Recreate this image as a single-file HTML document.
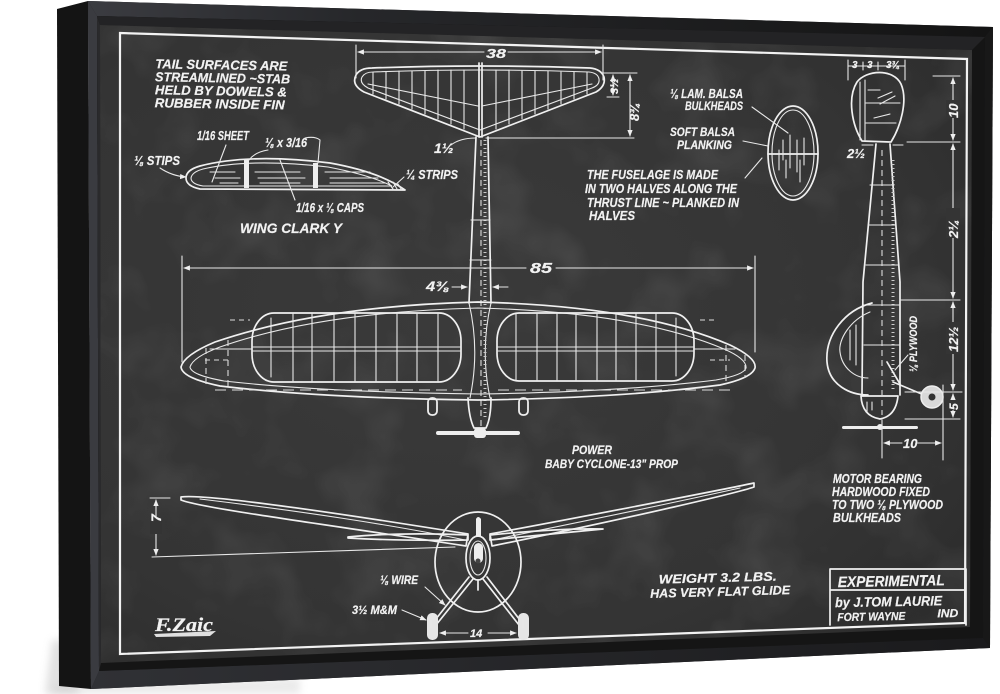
<!DOCTYPE html>
<html><head><meta charset="utf-8">
<style>
html,body{margin:0;padding:0;background:#fff;width:1000px;height:694px;overflow:hidden}
svg{display:block}
text{font-family:"Liberation Sans",sans-serif;font-style:italic;font-weight:bold;fill:#f2f2f2;stroke:#f2f2f2;stroke-width:0.2}
.w{stroke:#f0f0f0;fill:none;stroke-width:1.7;stroke-linecap:round;stroke-linejoin:round}
.t{stroke:#e8e8e8;fill:none;stroke-width:1.1;stroke-linecap:round}
.d{stroke:#dcdcdc;fill:none;stroke-width:1.1;stroke-dasharray:6 4}
</style></head><body>
<svg width="1000" height="694" viewBox="0 0 1000 694" xmlns="http://www.w3.org/2000/svg">
<defs>
 <linearGradient id="topg" x1="0" x2="1" y1="0" y2="0">
  <stop offset="0" stop-color="#3b3c41"/><stop offset="0.3" stop-color="#26272a"/><stop offset="1" stop-color="#141414"/>
 </linearGradient>
 <linearGradient id="botg" x1="0" x2="1" y1="0" y2="0">
  <stop offset="0" stop-color="#303135"/><stop offset="1" stop-color="#1a1a1c"/>
 </linearGradient>
 <radialGradient id="canv" cx="0.4" cy="0.45" r="0.75">
  <stop offset="0" stop-color="#3a3a3a"/><stop offset="0.7" stop-color="#343434"/><stop offset="1" stop-color="#2c2c2c"/>
 </radialGradient>
 <filter id="blur" x="-20%" y="-20%" width="140%" height="140%"><feGaussianBlur stdDeviation="4"/></filter>
 <filter id="noise" x="0" y="0" width="100%" height="100%">
  <feTurbulence type="fractalNoise" baseFrequency="0.015" numOctaves="3" seed="7"/>
  <feColorMatrix type="matrix" values="0 0 0 0 1  0 0 0 0 1  0 0 0 0 1  1.3 0 0 0 -0.6"/>
 </filter>
 <clipPath id="cc"><polygon points="100,25 972,50 970,627 101,663"/></clipPath>
 <marker id="ar" viewBox="0 0 10 10" refX="9" refY="5" markerWidth="6" markerHeight="6" orient="auto-start-reverse">
  <path d="M0,1 L10,5 L0,9 Z" fill="#eee"/>
 </marker>
</defs>

<!-- shadow -->
<polygon points="52,640 62,640 80,694 45,694" fill="#aaa" opacity="0.35" filter="url(#blur)"/>
<polygon points="60,684 300,678 300,694 50,694" fill="#bbb" opacity="0.3" filter="url(#blur)"/>

<!-- frame side face -->
<polygon points="57,9 88,1 91,689 59,686" fill="#141414"/>
<!-- frame front -->
<polygon points="88,1 993,27 990,648 91,689" fill="#1b1b1d"/>
<polygon points="88,1 993,27 985,37 97,16" fill="url(#topg)"/>
<polygon points="88,1 97,16 99,671 91,689" fill="#3a3b40"/>
<polygon points="99,671 983,638 990,648 91,689" fill="url(#botg)"/>
<polygon points="985,37 993,27 990,648 983,638" fill="#181818"/>
<!-- recess -->
<polygon points="97,16 985,37 983,638 99,671" fill="#151515"/>
<polygon points="97,16 100,25 101,663 99,671" fill="#2a2a2c"/>
<polygon points="97,16 985,37 972,50 100,25" fill="#232325"/>
<!-- canvas -->
<polygon points="100,25 972,50 970,627 101,663" fill="url(#canv)"/>
<rect x="100" y="25" width="872" height="638" filter="url(#noise)" clip-path="url(#cc)" opacity="0.14"/>

<!-- border -->
<polygon points="120,33 967,59 965,623 120,654" fill="none" stroke="#f2f2f2" stroke-width="2.2"/>

<!-- ===== top-left text ===== -->
<g transform="rotate(1 200 85)">
<text x="155" y="69" font-size="13" textLength="132" lengthAdjust="spacingAndGlyphs">TAIL SURFACES ARE</text>
<text x="155" y="82" font-size="13" textLength="135" lengthAdjust="spacingAndGlyphs">STREAMLINED ~STAB</text>
<text x="155" y="95" font-size="13" textLength="132" lengthAdjust="spacingAndGlyphs">HELD BY DOWELS &amp;</text>
<text x="155" y="108" font-size="13" textLength="130" lengthAdjust="spacingAndGlyphs">RUBBER INSIDE FIN</text>
</g>

<!-- airfoil -->
<path class="w" d="M186,178 Q186,170 200,166 Q250,153 330,163 Q380,172 405,190 L200,189 Q186,186 186,178 Z"/>
<path class="t" d="M191,178 Q192,172 203,169 Q250,158 328,167 Q370,175 392,186 L203,186 Q191,184 191,178 Z"/>
<rect x="244" y="159" width="5" height="29" fill="#eee"/>
<rect x="313" y="163" width="5" height="25" fill="#eee"/>
<path class="t" d="M210,172 H235 M215,178 H240 M255,172 H300 M258,178 H305 M325,172 H370 M330,178 H378 M220,183 H238 M260,183 H300 M330,183 H385"/>
<path class="t" d="M388,182 L393,189 M393,182 L397,189 M398,184 L401,189"/>
<text x="134" y="165" font-size="13" textLength="46" lengthAdjust="spacingAndGlyphs">⅛ STIPS</text>
<path class="t" d="M160,168 Q172,176 186,177" marker-end="url(#ar)"/>
<text x="197" y="140" font-size="13" textLength="52" lengthAdjust="spacingAndGlyphs">1/16 SHEET</text>
<path class="t" d="M226,145 L212,182"/>
<text x="265" y="147" font-size="13" textLength="42" lengthAdjust="spacingAndGlyphs">⅛ x 3/16</text>
<path class="t" d="M268,150 Q255,152 249,160 M305,138 Q315,136 320,140 L318,163"/>
<text x="406" y="179" font-size="13" textLength="52" lengthAdjust="spacingAndGlyphs">¼ STRIPS</text>
<path class="t" d="M404,177 L393,187"/>
<text x="296" y="212" font-size="13" textLength="68" lengthAdjust="spacingAndGlyphs">1/16 x ⅛ CAPS</text>
<path class="t" d="M295,200 L280,160"/>
<text x="240" y="233" font-size="14" textLength="102" lengthAdjust="spacingAndGlyphs">WING CLARK Y</text>

<!-- ===== tail top view ===== -->
<path class="w" d="M480,137 L364,92 Q351,85 356,75 Q360,68 372,68 Q480,64 590,68 Q601,69 604,77 Q606,86 596,92 Z"/>
<path class="t" d="M480,130 L368,88 Q359,83 362,77 Q365,72 373,72 Q480,68 589,72 Q598,73 599,79 Q600,85 592,88 Z"/>
<path class="t" d="M373,72V94 M386,72V99 M399,71V104 M412,71V109 M425,71V114 M438,70V119 M451,70V124 M464,70V129 M496,70V129 M509,70V124 M522,71V119 M535,71V114 M548,71V109 M561,72V104 M574,72V99 M587,72V94"/>
<path class="t" d="M368,84 L478,106 M592,84 L482,106"/>
<path class="w" d="M479,63 V137 M482,63 V137"/>
<!-- 38 dim -->
<path class="t" d="M356,45 V78 M603,45 V80"/>
<path class="t" d="M358,52 H484" marker-start="url(#ar)"/>
<path class="t" d="M508,52 H601" marker-end="url(#ar)"/>
<text x="486" y="58" font-size="13" textLength="20" lengthAdjust="spacingAndGlyphs">38</text>
<!-- tail side dims -->
<path class="t" d="M602,73 H637 M607,97 H619 M486,138 H634"/>
<path class="t" d="M613,75 V95" marker-start="url(#ar)" marker-end="url(#ar)"/>
<path class="t" d="M630,75 V136" marker-start="url(#ar)" marker-end="url(#ar)"/>
<text transform="translate(618,94) rotate(-90)" font-size="11">3½</text>
<text transform="translate(639,121) rotate(-90)" font-size="13">8¾</text>
<text x="434" y="153" font-size="14">1½</text>
<path class="t" d="M451,145 Q460,138 476,138"/>

<!-- ===== fuselage top view ===== -->
<path class="w" d="M476,137 L469,303 M488,137 L491,303"/>
<path class="w" d="M468,398 Q469,418 474,428 H486 Q491,418 491,398"/>
<path class="t" d="M469,303 Q480,350 470,398 M491,303 Q480,350 490,398"/>
<path class="d" d="M481,140 V426"/>
<path d="M485,140 V420" stroke="#ccc" stroke-width="3" stroke-dasharray="1 3" fill="none"/>
<path class="t" d="M471,220 H490 M470,260 H491"/>
<rect x="436" y="431" width="84" height="4" rx="2" fill="#eee"/>
<rect x="474" y="428" width="12" height="10" rx="3" fill="#eee"/>
<rect x="428" y="398" width="9" height="17" rx="4" fill="none" stroke="#eee" stroke-width="1.8"/>
<rect x="519" y="398" width="9" height="17" rx="4" fill="none" stroke="#eee" stroke-width="1.8"/>
<!-- 4 3/8 -->
<path class="t" d="M452,287 H467" marker-end="url(#ar)"/>
<path class="t" d="M508,287 H493" marker-end="url(#ar)"/>
<text x="426" y="291" font-size="14" textLength="23" lengthAdjust="spacingAndGlyphs">4⅜</text>

<!-- ===== wing top view ===== -->
<path class="t" d="M182,256 V362 M755,256 V352"/>
<path class="t" d="M184,268 H526" marker-start="url(#ar)"/>
<path class="t" d="M556,268 H753" marker-end="url(#ar)"/>
<text x="530" y="273" font-size="15" textLength="22" lengthAdjust="spacingAndGlyphs">85</text>
<path class="w" d="M181,367 Q184,355 215,342 Q320,306 478,302 Q640,306 730,345 Q757,358 755,368 Q752,378 720,385 Q620,398 478,400 Q320,398 220,386 Q182,378 181,367 Z"/>
<path class="t" d="M190,367 Q193,357 220,347 Q320,312 478,308 Q636,312 724,349 Q747,359 746,368 Q744,375 716,380 Q620,392 478,394 Q322,392 224,381 Q191,375 190,367 Z"/>
<rect x="252" y="313" width="209" height="69" rx="22" ry="28" class="w"/>
<rect x="497" y="313" width="197" height="68" rx="22" ry="28" class="w"/>
<path class="t" d="M271,318V377 M293,314V381 M312,314V381 M334,314V381 M355,314V381 M376,314V381 M397,314V381 M417,314V381 M438,314V381"/>
<path class="t" d="M516,314V380 M537,314V380 M557,314V380 M576,314V380 M597,314V380 M616,314V380 M636,314V380 M656,314V380 M676,318V376"/>
<path class="t" d="M252,347 H461 M252,351 H461 M497,347 H694 M497,351 H694 M210,349 H252 M694,349 H735"/>
<path class="d" d="M206,348 V388 M228,340 V390 M726,345 V384 M745,355 V378"/>
<path d="M215,390 H462 M498,390 H730" stroke="#ddd" stroke-width="1.1" stroke-dasharray="11 6" fill="none"/>
<path d="M230,320 H250 M700,320 H715 M205,360 H230 M710,360 H730" stroke="#ddd" stroke-width="1" stroke-dasharray="5 4" fill="none"/>

<!-- POWER text -->
<text x="572" y="454" font-size="12" textLength="40" lengthAdjust="spacingAndGlyphs">POWER</text>
<text x="545" y="468" font-size="12" textLength="133" lengthAdjust="spacingAndGlyphs">BABY CYCLONE-13" PROP</text>

<!-- ===== fuselage note / cross section ===== -->
<text x="670" y="98" font-size="13" textLength="73" lengthAdjust="spacingAndGlyphs">⅛ LAM. BALSA</text>
<text x="685" y="110" font-size="12" textLength="58" lengthAdjust="spacingAndGlyphs">BULKHEADS</text>
<text x="670" y="136" font-size="12" textLength="65" lengthAdjust="spacingAndGlyphs">SOFT BALSA</text>
<text x="677" y="149" font-size="12" textLength="55" lengthAdjust="spacingAndGlyphs">PLANKING</text>
<text x="587" y="179" font-size="12.5" textLength="131" lengthAdjust="spacingAndGlyphs">THE FUSELAGE IS MADE</text>
<text x="585" y="193" font-size="12.5" textLength="152" lengthAdjust="spacingAndGlyphs">IN TWO HALVES ALONG THE</text>
<text x="587" y="207" font-size="12.5" textLength="152" lengthAdjust="spacingAndGlyphs">THRUST LINE ~ PLANKED IN</text>
<text x="589" y="220" font-size="12.5" textLength="46" lengthAdjust="spacingAndGlyphs">HALVES</text>
<ellipse cx="793" cy="153" rx="25" ry="47" class="w"/>
<ellipse cx="793" cy="153" rx="21" ry="43" class="t"/>
<path class="w" d="M768,154 H818"/>
<path class="t" d="M783,140 V160 M790,135 V168 M797,140 V172 M804,138 V165 M786,160 V178 M800,160 V182 M779,150 V170"/>
<path class="t" d="M752,107 L788,133 M743,141 L768,146 M745,178 L762,158"/>

<!-- ===== side view (right) ===== -->
<path class="t" d="M848,66 H905 M848,60 V80 M863,62 V70 M878,62 V70 M905,60 V80"/>
<text x="852" y="68" font-size="10">3</text>
<text x="867" y="68" font-size="10">3</text>
<text x="886" y="68" font-size="10">3¾</text>
<path class="w" d="M862,141 C852,125 847,98 857,82 C866,70 893,68 901,84 C908,100 901,126 891,142 Z"/>
<path class="t" d="M860,82 V140 M865,80 V140 M866,103 H900 M866,123 H896 M868,90 H880"/>
<path class="t" d="M878,98 L892,92 M880,104 L895,96 M874,118 L890,114"/>
<path class="w" d="M876,144 L863,282 L862,395 M890,144 L900,282 L900,395"/>
<path class="w" d="M861,396 Q862,416 880,419 Q896,416 898,396 Z"/>
<path class="d" d="M882,150 V415"/>
<path d="M893,160 V390" stroke="#ccc" stroke-width="3" stroke-dasharray="1 3" fill="none"/>
<path class="t" d="M870,185 H894 M868,225 H896 M866,265 H898 M864,305 H900 M864,345 H900"/>
<path class="t" d="M867,402 V412 M872,402 V410"/>
<path class="w" d="M872,303 C845,310 825,335 827,362 C829,385 850,395 868,395"/>
<path class="t" d="M870,312 C850,320 838,340 840,352 C842,368 855,378 868,378"/>
<path class="t" d="M850,330 V360 M856,325 V365"/>
<rect x="842" y="426" width="76" height="3" rx="1.5" fill="#eee"/>
<circle cx="880" cy="427" r="3" fill="#eee"/>
<path class="w" d="M893,382 L924,395 M887,362 L900,384"/>
<circle cx="932" cy="397" r="11" fill="#d8d8d8" stroke="#eee" stroke-width="1.5"/>
<circle cx="932" cy="397" r="3.5" fill="#333"/>
<text transform="translate(917,372) rotate(-90)" font-size="11" textLength="56" lengthAdjust="spacingAndGlyphs">⅛ PLYWOOD</text>
<path class="t" d="M908,355 L895,370"/>
<text x="847" y="158" font-size="13">2½</text>
<path class="t" d="M862,145 H873 M893,145 H903"/>
<!-- right dims -->
<path class="t" d="M933,76 H960 M907,142 H960 M900,300 H960 M905,392 H962 M905,419 H960"/>
<path class="t" d="M953,78 V140" marker-start="url(#ar)" marker-end="url(#ar)"/>
<path class="t" d="M953,144 V298" marker-start="url(#ar)" marker-end="url(#ar)"/>
<path class="t" d="M953,302 V390" marker-start="url(#ar)" marker-end="url(#ar)"/>
<path class="t" d="M953,394 V417" marker-start="url(#ar)" marker-end="url(#ar)"/>
<rect x="946" y="100" width="14" height="18" fill="#343434"/>
<rect x="946" y="208" width="14" height="30" fill="#343434"/>
<rect x="946" y="322" width="14" height="32" fill="#343434"/>
<rect x="946" y="400" width="14" height="10" fill="#343434"/>
<text transform="translate(958,118) rotate(-90)" font-size="13">10</text>
<text transform="translate(958,238) rotate(-90)" font-size="13">2¼</text>
<text transform="translate(958,352) rotate(-90)" font-size="13">12½</text>
<text transform="translate(958,410) rotate(-90)" font-size="12">5</text>
<!-- 10 bottom dim -->
<path class="t" d="M882,420 V458 M943,385 V460"/>
<path class="t" d="M884,443 H902" marker-start="url(#ar)"/>
<path class="t" d="M918,443 H941" marker-end="url(#ar)"/>
<text x="903" y="448" font-size="13">10</text>

<text x="833" y="483" font-size="12.5" textLength="89" lengthAdjust="spacingAndGlyphs">MOTOR BEARING</text>
<text x="832" y="496" font-size="12.5" textLength="98" lengthAdjust="spacingAndGlyphs">HARDWOOD FIXED</text>
<text x="832" y="509" font-size="12.5" textLength="111" lengthAdjust="spacingAndGlyphs">TO TWO ⅛ PLYWOOD</text>
<text x="833" y="522" font-size="12.5" textLength="68" lengthAdjust="spacingAndGlyphs">BULKHEADS</text>

<!-- ===== front view ===== -->
<path class="t" d="M150,498 H170"/>
<path class="t" d="M156,500 V555" marker-start="url(#ar)" marker-end="url(#ar)"/>
<rect x="150" y="518" width="12" height="16" fill="#343434"/>
<text transform="translate(161,522) rotate(-90)" font-size="14">7</text>
<path class="t" d="M152,557 L455,547"/>
<path class="w" d="M181,497 C200,494 300,507 468,534 L466,546 C330,525 200,508 181,500 Z"/>
<path class="t" d="M200,499 C300,511 400,526 465,540"/>
<path class="w" d="M754,483 C740,486 640,506 490,534 L492,546 C640,516 740,492 754,487 Z"/>
<path class="t" d="M740,488 C650,508 560,526 492,540"/>
<path class="w" d="M348,537 Q400,532 468,535 L468,540 Q400,541 348,538 Z"/>
<path class="w" d="M490,535 Q560,528 603,529 Q560,533 490,540 Z"/>
<ellipse cx="478" cy="562" rx="43" ry="50" class="w" stroke-width="1.4"/>
<path d="M476,537 V519 Q478,515 481,519 V537" fill="#eee"/>
<ellipse cx="478" cy="558" rx="12" ry="22" class="w" stroke-width="2"/>
<ellipse cx="478" cy="558" rx="8" ry="17" class="t"/>
<rect x="474" y="543" width="9" height="20" rx="4.5" fill="#eee"/>
<circle cx="478" cy="561" r="2.5" fill="#444"/>
<path class="w" d="M478,580 V590"/>
<path class="w" d="M469,577 L432,624 M473,579 L436,625 M487,577 L523,624 M483,579 L519,625"/>
<rect x="427" y="613" width="11" height="27" rx="5" fill="#e6e6e6"/>
<rect x="518" y="613" width="11" height="27" rx="5" fill="#e6e6e6"/>
<path class="t" d="M431,620 V628 M523,620 V628"/>
<path class="t" d="M440,633 H468" marker-start="url(#ar)"/>
<path class="t" d="M488,633 H516" marker-end="url(#ar)"/>
<text x="470" y="637" font-size="11">14</text>
<text x="380" y="584" font-size="11.5" textLength="38" lengthAdjust="spacingAndGlyphs">⅛ WIRE</text>
<path class="t" d="M425,587 L445,605" marker-end="url(#ar)"/>
<text x="352" y="614" font-size="11.5" textLength="45" lengthAdjust="spacingAndGlyphs">3½ M&amp;M</text>
<path class="t" d="M402,610 L426,620" marker-end="url(#ar)"/>

<g transform="rotate(-1.5 720 588)">
<text x="659" y="582" font-size="12.5" textLength="118" lengthAdjust="spacingAndGlyphs">WEIGHT  3.2 LBS.</text>
<text x="650" y="596" font-size="12.5" textLength="140" lengthAdjust="spacingAndGlyphs">HAS VERY FLAT GLIDE</text>
</g>

<!-- signature -->
<text x="155" y="631" font-size="19" style="font-family:'Liberation Serif',serif" textLength="58" lengthAdjust="spacingAndGlyphs">F.Zaic</text>
<path d="M154,634 L216,631 L210,636 L156,637 Z" fill="#e0e0e0"/>

<!-- title block -->
<path d="M830,625 V569 H966 M830,590 H966 M966,569 V625" class="w" stroke-width="2"/>
<g transform="rotate(-1 900 597)">
<text x="838" y="586" font-size="15" textLength="107" lengthAdjust="spacingAndGlyphs">EXPERIMENTAL</text>
<text x="835" y="606" font-size="13.5" textLength="107" lengthAdjust="spacingAndGlyphs">by J.TOM LAURIE</text>
<text x="837" y="620" font-size="11.5" textLength="68" lengthAdjust="spacingAndGlyphs">FORT WAYNE</text>
<text x="937" y="618" font-size="11.5" textLength="21" lengthAdjust="spacingAndGlyphs">IND</text>
</g>
</svg>
</body></html>
